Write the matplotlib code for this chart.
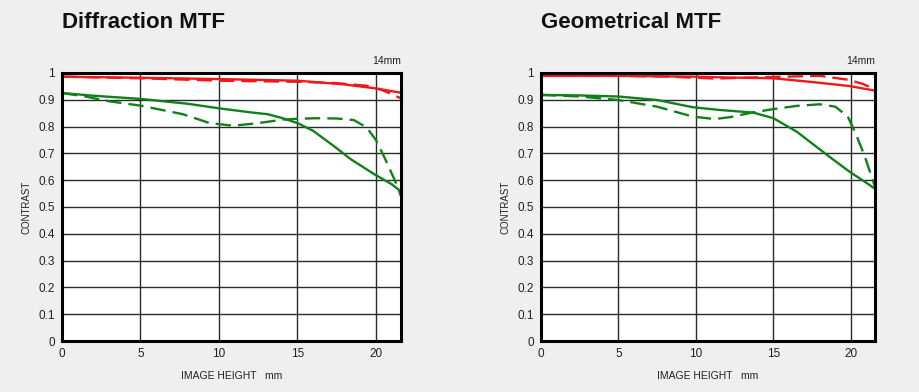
import matplotlib.pyplot as plt

# image height (mm) and contrast values
diff_sag_x = [0, 2, 5, 8, 10, 12, 13.1, 14, 15, 16, 17.3, 18.4, 19.9, 21, 21.6]
diff_sag_y = [0.925, 0.915, 0.903, 0.885, 0.868, 0.853, 0.846, 0.832, 0.813, 0.784, 0.728, 0.678, 0.622, 0.585, 0.558]
diff_mer_x = [0, 1.5, 2.8, 5, 7.7, 9.4, 10.9, 12.4, 14.1, 15, 16.2, 17.5, 18.6, 19.4, 20, 20.5, 21.2, 21.6]
diff_mer_y = [0.925, 0.912, 0.896, 0.878, 0.846, 0.813, 0.803, 0.812, 0.826, 0.829, 0.831, 0.830, 0.824, 0.797, 0.75, 0.69, 0.60, 0.54]
diff_rsag_x = [0, 5, 10, 15, 18, 20, 21.6]
diff_rsag_y = [0.986, 0.982, 0.977, 0.971, 0.957, 0.942, 0.926]
diff_rmer_x = [0, 5, 10, 15, 17.5, 19.4, 20.3, 21, 21.6]
diff_rmer_y = [0.986, 0.980, 0.971, 0.967, 0.962, 0.952, 0.938, 0.921, 0.905]

geo_sag_x = [0, 2.5, 5, 7.5, 9.8, 11.5, 13.7, 15, 16.5, 18.6, 19.9, 21, 21.55]
geo_sag_y = [0.918, 0.916, 0.912, 0.899, 0.872, 0.862, 0.852, 0.831, 0.781, 0.688, 0.632, 0.590, 0.568]
geo_mer_x = [0, 2.5, 5, 7.5, 9.8, 11.2, 12.2, 13.7, 15, 16.5, 18, 19, 19.8, 20.3, 20.9, 21.3, 21.55]
geo_mer_y = [0.918, 0.912, 0.899, 0.874, 0.837, 0.828, 0.835, 0.853, 0.865, 0.877, 0.883, 0.874, 0.837, 0.775, 0.688, 0.619, 0.576]
geo_rsag_x = [0, 5, 10, 12, 15, 17.5, 19.9, 21.55]
geo_rsag_y = [0.989, 0.989, 0.986, 0.983, 0.980, 0.966, 0.951, 0.934]
geo_rmer_x = [0, 5, 8.3, 11.2, 15, 18, 19.9, 20.8, 21.55]
geo_rmer_y = [0.989, 0.989, 0.986, 0.979, 0.985, 0.989, 0.974, 0.958, 0.939]

x_ticks = [0, 5, 10, 15, 20]
y_ticks = [0, 0.1, 0.2, 0.3, 0.4, 0.5, 0.6, 0.7, 0.8, 0.9, 1]
y_labels = ['0', '0.1', '0.2', '0.3', '0.4', '0.5', '0.6', '0.7', '0.8', '0.9', '1']

GREEN = '#12801a'
RED = '#f01818'
BG = '#efefef'

plt.rcParams['font.family'] = ['Liberation Sans', 'DejaVu Sans']

fig = plt.figure(figsize=(9.2, 3.92), dpi=100, facecolor=BG)


def draw_panel(rect, title, xmax, sag, mer, rsag, rmer):
    ax = fig.add_axes(rect)
    ax.set_facecolor('white')
    ax.set_xlim(0, xmax)
    ax.set_ylim(0, 1)
    ax.set_xticks(x_ticks)
    ax.set_xticklabels([str(t) for t in x_ticks])
    ax.set_yticks(y_ticks)
    ax.set_yticklabels(y_labels)
    ax.tick_params(length=0, labelsize=8.5, pad=5, colors='#222222')
    ax.grid(True, color='#2a2a2a', linewidth=1.0)
    ax.set_axisbelow(True)
    for s in ax.spines.values():
        s.set_linewidth(2.2)
        s.set_color('black')

    ax.plot(rsag[0], rsag[1], color=RED, lw=1.7)
    ax.plot(rmer[0], rmer[1], color=RED, lw=1.7, dashes=(6.5, 3))
    ax.plot(sag[0], sag[1], color=GREEN, lw=1.7)
    ax.plot(mer[0], mer[1], color=GREEN, lw=1.7, dashes=(6.5, 3))

    ax.set_xlabel('IMAGE HEIGHT   mm', fontsize=7.5, labelpad=8, color='#222222')
    ax.set_ylabel('CONTRAST', fontsize=7, labelpad=5, color='#222222')
    ax.text(1.0, 1.025, '14mm', transform=ax.transAxes, ha='right', va='bottom',
            fontsize=7.5, color='#222222')
    fig.text(rect[0], 0.942, title, ha='left', va='center', fontsize=16,
             fontweight='bold', color='#111111')
    return ax


draw_panel([0.0674, 0.130, 0.3685, 0.684], 'Diffraction MTF', 21.6,
           (diff_sag_x, diff_sag_y), (diff_mer_x, diff_mer_y),
           (diff_rsag_x, diff_rsag_y), (diff_rmer_x, diff_rmer_y))
draw_panel([0.588, 0.130, 0.363, 0.684], 'Geometrical MTF', 21.55,
           (geo_sag_x, geo_sag_y), (geo_mer_x, geo_mer_y),
           (geo_rsag_x, geo_rsag_y), (geo_rmer_x, geo_rmer_y))

fig.savefig('out.png', dpi=100, facecolor=BG)
